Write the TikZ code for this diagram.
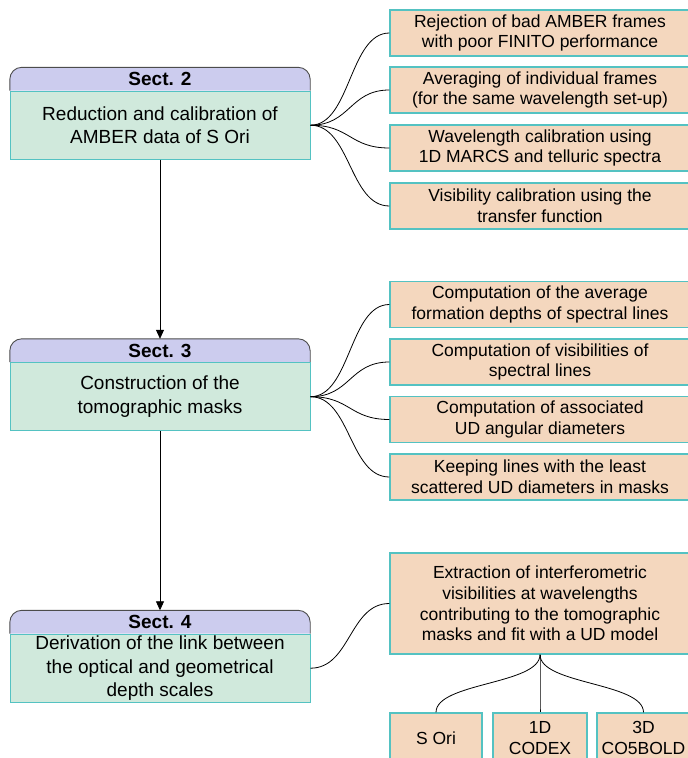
\documentclass[tikz,border=0pt]{standalone}
\usepackage{fontspec}
\setmainfont{Liberation Sans}
\usetikzlibrary{positioning,arrows.meta,backgrounds}

\definecolor{sectpurple}{RGB}{204,204,238}
\definecolor{sectgreen}{RGB}{208,233,220}
\definecolor{boxteal}{RGB}{84,194,194}
\definecolor{taskpeach}{RGB}{244,215,190}

\begin{document}
\begin{tikzpicture}[x=1pt, y=-1pt,
    header/.style={rectangle, minimum width=300pt, minimum height=23pt,
        inner sep=0pt, font=\bfseries\fontsize{19}{22}\selectfont},
    headerframe/.style={draw=black!70, fill=sectpurple, line width=0.9pt,
        rounded corners=12pt},
    section/.style={rectangle, draw=boxteal, fill=sectgreen, line width=1pt,
        minimum width=300pt, minimum height=68pt, inner sep=0pt, align=center,
        font=\fontsize{19}{23.5}\selectfont},
    task/.style={rectangle, draw=boxteal, fill=taskpeach, line width=1.2pt,
        minimum width=300pt, minimum height=46pt, inner sep=0pt, align=center,
        font=\fontsize{17.5}{20.7}\selectfont},
    branch/.style={draw, line width=0.8pt},
    arrowstyle/.style={draw, line width=0.8pt, -{Triangle[length=9pt,width=8pt]}}
]
\useasboundingbox (0,0) rectangle (688,758);
\clip (0,0) rectangle (688,758);

% left column
\node (sect2h) [header] at (160,79) {Sect. 2};
\node (sect2) [section, below=0pt of sect2h] {Reduction and calibration of\\AMBER data of S Ori};
\node (sect3h) [header] at (160,350.5) {Sect. 3};
\node (sect3) [section, below=0pt of sect3h] {Construction of the\\tomographic masks};
\node (sect4h) [header] at (160,622) {Sect. 4};
\node (sect4) [section, below=0pt of sect4h] {Derivation of the link between\\the optical and geometrical\\depth scales};

\begin{scope}[on background layer]
\foreach \s in {sect2h,sect3h,sect4h}
  \filldraw[headerframe] (\s.south west) -- (\s.north west) -- (\s.north east) -- (\s.south east);
\end{scope}

\draw[arrowstyle] (sect2) -- (sect3h);
\draw[arrowstyle] (sect3) -- (sect4h);

% reduction steps
\node (red1) [task] at (540,33) {Rejection of bad AMBER frames\\with poor FINITO performance};
\node (red2) [task] at (540,90) {Averaging of individual frames\\(for the same wavelength set-up)};
\node (red3) [task] at (540,148) {Wavelength calibration using\\1D MARCS and telluric spectra};
\node (red4) [task] at (540,206) {Visibility calibration using the\\transfer function};

% mask steps
\node (mask1) [task] at (540,304.5) {Computation of the average\\formation depths of spectral lines};
\node (mask2) [task] at (540,362) {Computation of visibilities of\\spectral lines};
\node (mask3) [task] at (540,419.5) {Computation of associated\\UD angular diameters};
\node (mask4) [task] at (540,477) {Keeping lines with the least\\scattered UD diameters in masks};

% depth scale
\node (fit) [task, minimum height=101pt] at (540,603.5) {Extraction of interferometric\\visibilities at wavelengths\\contributing to the tomographic\\masks and fit with a UD model};
\node (sori) [task, minimum width=92pt, minimum height=50pt] at (436,738) {S Ori};
\node (codex) [task, minimum width=94pt, minimum height=50pt] at (540,738) {1D\\CODEX};
\node (cobold) [task, minimum width=93pt, minimum height=50pt] at (643.5,738) {3D\\CO5BOLD};

\foreach \t in {red1,red2,red3,red4}
  \draw[branch] (sect2.east) .. controls +(40,0) and +(-40,0) .. (\t.west);
\foreach \t in {mask1,mask2,mask3,mask4}
  \draw[branch] (sect3.east) .. controls +(40,0) and +(-40,0) .. (\t.west);
\draw[branch] (sect4.east) .. controls +(40,0) and +(-40,0) .. (fit.west);
\foreach \t in {sori,codex,cobold}
  \draw[branch] (fit.south) .. controls +(0,30) and +(0,-30) .. (\t.north);
\end{tikzpicture}
\end{document}
